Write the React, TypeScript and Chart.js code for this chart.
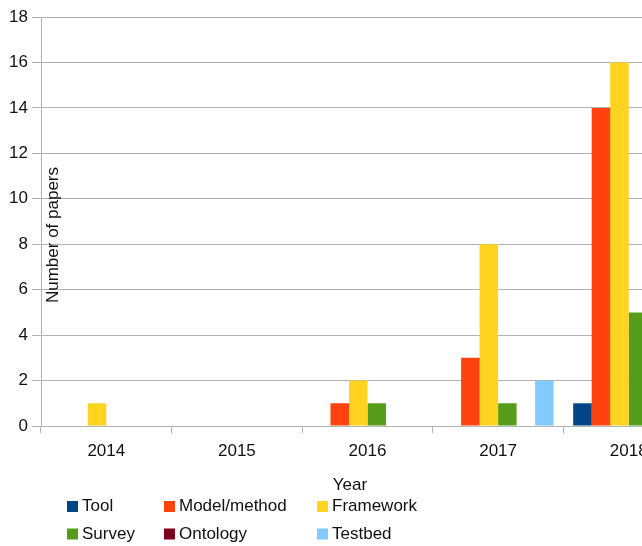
import React, { useEffect, useRef } from "react";
import { Chart, registerables } from "chart.js";

Chart.register(...registerables);

const categories = ["2014", "2015", "2016", "2017", "2018"];
const seriesNames = ["Tool", "Model/method", "Framework", "Survey", "Ontology", "Testbed"];
const tool = [0, 0, 0, 0, 1];
const modelMethod = [0, 0, 1, 3, 14];
const framework = [1, 0, 2, 8, 16];
const survey = [0, 0, 1, 1, 5];
const ontology = [0, 0, 0, 0, 0];
const testbed = [0, 0, 0, 2, 0];
const colors = ["#004586", "#ff420e", "#ffd320", "#579d1c", "#7e0021", "#83caff"];
const yTitle = "Number of papers";
const xTitle = "Year";

const FONT = "'Liberation Sans', Arial, sans-serif";
const FS = 17;
const TXT = "#111111";

const overlayPlugin = {
  id: "overlay",
  afterDraw(chart: any) {
    const ctx = chart.ctx;
    const area = chart.chartArea;
    ctx.save();
    ctx.fillStyle = TXT;
    ctx.font = `${FS}px ${FONT}`;
    // x title
    ctx.textAlign = "center";
    ctx.textBaseline = "middle";
    ctx.fillText(xTitle, area.left + 309, 485);
    // y title
    ctx.save();
    ctx.translate(area.left + 12, 235);
    ctx.rotate(-Math.PI / 2);
    ctx.fillText(yTitle, 0, 0);
    ctx.restore();
    // legend
    const cols = [67, 164, 317];
    const rows = [506.5, 534];
    ctx.textAlign = "left";
    chart.data.datasets.forEach((ds: any, i: number) => {
      const x = cols[i % 3];
      const y = rows[Math.floor(i / 3)];
      ctx.fillStyle = ds.backgroundColor;
      ctx.fillRect(x, y - 5.5, 11, 11);
      ctx.fillStyle = TXT;
      ctx.fillText(ds.label, x + 15, y);
    });
    ctx.restore();
  },
};

export default function App() {
  const ref = useRef<HTMLCanvasElement | null>(null);
  useEffect(() => {
    if (!ref.current) return;
    const values = [tool, modelMethod, framework, survey, ontology, testbed];
    const chart = new Chart(ref.current, {
      type: "bar",
      data: {
        labels: categories,
        datasets: seriesNames.map((n, i) => ({
          label: n,
          data: values[i],
          backgroundColor: colors[i],
          borderWidth: 0,
          categoryPercentage: 0.85,
          barPercentage: 1,
        })),
      },
      options: {
        animation: false,
        responsive: false,
        devicePixelRatio: 1,
        layout: { padding: { top: 17, left: 0, right: 0, bottom: 90 } },
        plugins: {
          legend: { display: false },
          tooltip: { enabled: false },
        },
        scales: {
          x: {
            grid: {
              offset: true,
              drawOnChartArea: false,
              drawTicks: true,
              tickLength: 7,
              color: "#b3b3b3",
            },
            border: { display: true, color: "#b3b3b3" },
            ticks: { color: TXT, font: { family: FONT, size: FS }, padding: 8, maxRotation: 0 },
            afterFit: (s: any) => {
              s.height = 30;
            },
          },
          y: {
            min: 0,
            max: 18,
            ticks: { stepSize: 2, color: TXT, font: { family: FONT, size: FS }, padding: 4 },
            grid: { color: "#b3b3b3", tickLength: 9, drawTicks: true },
            border: { display: true, color: "#b3b3b3" },
            afterFit: (s: any) => {
              s.width = 41;
            },
          },
        },
      },
      plugins: [overlayPlugin],
    });
    return () => chart.destroy();
  }, []);
  return (
    <div style={{ position: "fixed", left: 0, top: 0, width: 642, height: 546, overflow: "hidden", background: "#fff" }}>
      <canvas ref={ref} width={694} height={546} style={{ display: "block" }} />
    </div>
  );
}
